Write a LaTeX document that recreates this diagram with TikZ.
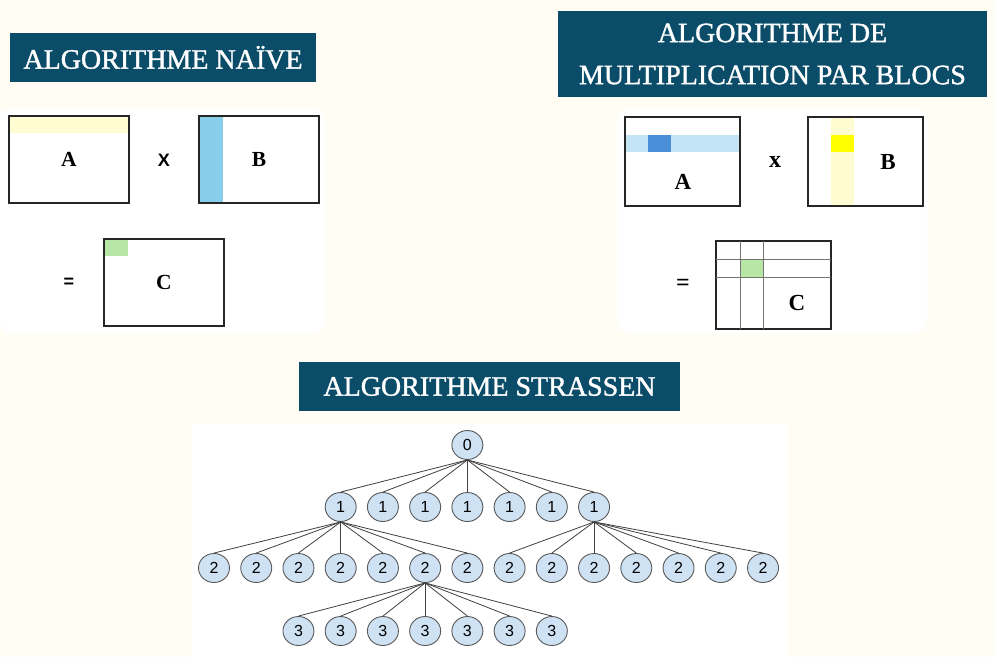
\documentclass[tikz,border=0pt]{standalone}
\usepackage{fontspec}
\setmainfont{Liberation Serif}
\newfontfamily\arialfont{Liberation Sans}
\newfontfamily\headfont{Liberation Serif}[FakeBold=1.3]
\usepackage{tikz}
\usetikzlibrary{positioning,shapes.geometric}

\definecolor{bgcream}{HTML}{FFFDF4}
\definecolor{headblue}{HTML}{0B4D69}
\definecolor{paleyellow}{HTML}{FFFCD2}
\definecolor{skyblue}{HTML}{87CEEB}
\definecolor{cellgreen}{HTML}{B7E6A5}
\definecolor{rowblue}{HTML}{C2E4F4}
\definecolor{blockblue}{HTML}{4A90D9}
\definecolor{blockyellow}{HTML}{FFFF00}
\definecolor{nodeblue}{HTML}{CFE2F3}

\begin{document}
\begin{tikzpicture}[
      x=1pt,y=-1pt,
      head/.style={fill=headblue,text=white,inner sep=0pt,align=center,font=\headfont\fontsize{28}{42}\selectfont},
      mat/.style={rectangle,draw=black!85,line width=1.4pt,inner sep=0pt},
      lbl/.style={font=\bfseries\fontsize{21.5}{24}\selectfont},
      biglbl/.style={font=\bfseries\fontsize{23}{26}\selectfont},
      tnode/.style={ellipse,draw=black!65,fill=nodeblue,line width=0.9pt,minimum width=31pt,minimum height=29pt,inner sep=0pt,font=\arialfont\fontsize{16}{16}\selectfont},
      link/.style={draw=black!75,line width=0.8pt}
    ]
    \useasboundingbox (0,0) rectangle (994,657);
    \fill[bgcream] (0,0) rectangle (994,657);

    % white panels
    \fill[white,rounded corners=12pt] (0,108) rectangle (325,333);
    \fill[white,rounded corners=12pt] (617,108) rectangle (927,333);
    \fill[white] (192,423) rectangle (788,657);

    % headings
    \node[head,minimum width=306pt,minimum height=49pt] (hnaive) at (163,57.5) {ALGORITHME NAÏVE};
    \node[head,minimum width=429pt,minimum height=86pt] (hblocs) at (772.5,54) {ALGORITHME DE\\MULTIPLICATION PAR BLOCS};
    \node[head,minimum width=381pt,minimum height=49pt] (hstrassen) at (489.5,386.5) {ALGORITHME STRASSEN};

    % naive product
    \fill[paleyellow] (9,116) rectangle (129,133);
    \fill[skyblue] (199,116) rectangle (223,203);
    \fill[cellgreen] (104,239) rectangle (128,256);
    \node[mat,lbl,minimum width=120pt,minimum height=87pt] (nA) at (69,159.5) {A};
    \node[mat,lbl,minimum width=120pt,minimum height=87pt] (nB) at (259,159.5) {B};
    \node[mat,lbl,minimum width=120pt,minimum height=87pt] (nC) at (164,282.5) {C};
    \node[font=\arialfont\bfseries\fontsize{18}{18}\selectfont] (ntimes) at (164,160) {X};
    \node[font=\arialfont\bfseries\fontsize{18}{18}\selectfont] (neq) at (69,283) {=};

    % block product
    \fill[rowblue] (625,135) rectangle (740,152);
    \fill[blockblue] (648,135) rectangle (671,152);
    \fill[paleyellow] (831,117) rectangle (854,206);
    \fill[blockyellow] (831,135) rectangle (854,152);
    \fill[cellgreen] (740,259) rectangle (763,277);
    \node[mat,minimum width=115pt,minimum height=89pt] (bA) at (682.5,161.5) {};
    \node[mat,minimum width=115pt,minimum height=89pt] (bB) at (865.5,161.5) {};
    \node[mat,minimum width=115pt,minimum height=88pt] (bC) at (773.5,285) {};
    \draw[black!55,line width=0.9pt] (740,241) -- (740,329) (763,241) -- (763,329)
      (716,259) -- (831,259) (716,277) -- (831,277);
    \node[biglbl] (bAl) at (683,182) {A};
    \node[biglbl] (bBl) at (888,162) {B};
    \node[biglbl] (bCl) at (797,303) {C};
    \node[font=\bfseries\fontsize{24}{24}\selectfont] (btimes) at (775,162) {x};
    \node[font=\bfseries\fontsize{24}{24}\selectfont] (beq) at (683,285) {=};

    % recursion tree
    \node[tnode] (t0) at ({214+42.23*6},445) {0};
    \foreach \i in {0,...,6}
      \node[tnode] (a\i) at ({214+42.23*(\i+3)},507) {1};
    \foreach \i in {0,...,13}
      \node[tnode] (b\i) at ({214+42.23*\i},568) {2};
    \foreach \i in {0,...,6}
      \node[tnode] (c\i) at ({214+42.23*(\i+2)},631) {3};

    \foreach \i in {0,...,6}
      \draw[link] (t0.south) -- (a\i.north);
    \foreach \i in {0,...,6}
      \draw[link] (a0.south) -- (b\i.north);
    \foreach \i in {7,...,13}
      \draw[link] (a6.south) -- (b\i.north);
    \foreach \i in {0,...,6}
      \draw[link] (b5.south) -- (c\i.north);
  \end{tikzpicture}
\end{document}
